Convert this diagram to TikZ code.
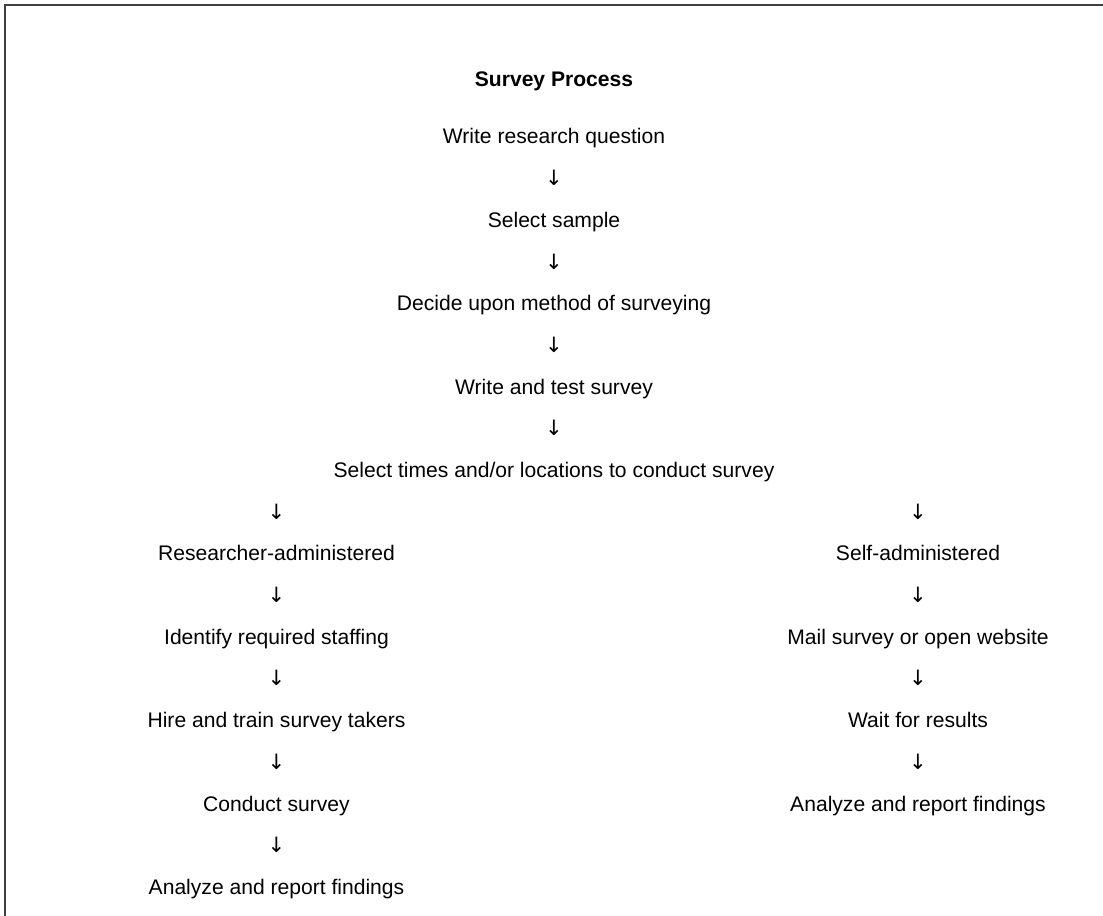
\documentclass[tikz,border=0pt]{standalone}
\usepackage{fontspec}
\setmainfont{Liberation Sans}
\newfontfamily\arrowfont{DejaVu Sans}
\usetikzlibrary{positioning}

\begin{document}
\begin{tikzpicture}[
    node distance=0.398cm,
    steptext/.style={inner sep=0pt, text height=9pt, text depth=3pt, align=center, font=\fontsize{12}{14}\selectfont},
    downarrow/.style={steptext, font=\arrowfont\fontsize{12}{14}\selectfont},
    titletext/.style={steptext, font=\fontsize{12}{14}\selectfont\bfseries}
]
\useasboundingbox (0,0) rectangle (22.06,-18.3);

% Frame
\draw[line width=0.9pt, black!75] (0.1,-23) |- (24,-0.1);

\node[titletext] (title) at (11.08,-1.62) {Survey Process};
\node[steptext, below=0.718cm of title] (question) {Write research question};
\node[downarrow, below=of question] (a1) {↓};
\node[steptext, below=of a1] (sample) {Select sample};
\node[downarrow, below=of sample] (a2) {↓};
\node[steptext, below=of a2] (method) {Decide upon method of surveying};
\node[downarrow, below=of method] (a3) {↓};
\node[steptext, below=of a3] (writetest) {Write and test survey};
\node[downarrow, below=of writetest] (a4) {↓};
\node[steptext, below=of a4] (times) {Select times and/or locations to conduct survey};

% Researcher-administered branch
\node[downarrow, below=of times, xshift=-5.55cm] (al1) {↓};
\node[steptext, below=of al1] (researcher) {Researcher-administered};
\node[downarrow, below=of researcher] (al2) {↓};
\node[steptext, below=of al2] (staffing) {Identify required staffing};
\node[downarrow, below=of staffing] (al3) {↓};
\node[steptext, below=of al3] (hire) {Hire and train survey takers};
\node[downarrow, below=of hire] (al4) {↓};
\node[steptext, below=of al4] (conduct) {Conduct survey};
\node[downarrow, below=of conduct] (al5) {↓};
\node[steptext, below=of al5] (analyzeleft) {Analyze and report findings};

% Self-administered branch
\node[downarrow, below=of times, xshift=7.28cm] (ar1) {↓};
\node[steptext, below=of ar1] (self) {Self-administered};
\node[downarrow, below=of self] (ar2) {↓};
\node[steptext, below=of ar2] (mail) {Mail survey or open website};
\node[downarrow, below=of mail] (ar3) {↓};
\node[steptext, below=of ar3] (wait) {Wait for results};
\node[downarrow, below=of wait] (ar4) {↓};
\node[steptext, below=of ar4] (analyzeright) {Analyze and report findings};

\end{tikzpicture}
\end{document}
